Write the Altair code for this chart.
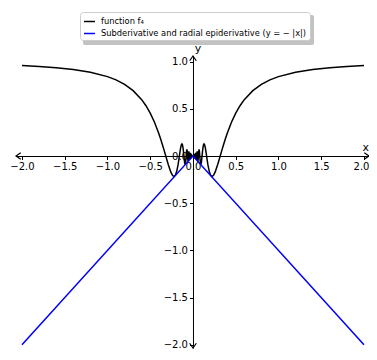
import altair as alt
import pandas as pd

# ---- data ----
F4_X = [-2.0, -1.8, -1.6, -1.4, -1.2, -1.0, -0.9, -0.8, -0.7, -0.6, -0.55, -0.5, -0.45, -0.4,
        -0.38, -0.36, -0.34, -0.3183, -0.29, -0.26, -0.24, -0.2225, -0.205, -0.19, -0.175,
        -0.167, -0.1592, -0.152, -0.145, -0.137, -0.1294, -0.123, -0.117, -0.111, -0.1061,
        -0.098, -0.0917, -0.085, -0.0796, -0.075, -0.0711, -0.067, -0.0637, -0.0579, -0.0531,
        -0.049, -0.0455, -0.0424, -0.0398, -0.0374, -0.0354, -0.0335, -0.0318, -0.0303,
        -0.0289, -0.0277, -0.0265, -0.02546, -0.02449, -0.02358, -0.02274, -0.02195,
        -0.02122, -0.02054, -0.01989, -0.01929, -0.01872, -0.01819, -0.01768, -0.01722,
        -0.01675,
        0.0,
        0.01675, 0.01722, 0.01768, 0.01819, 0.01872, 0.01929, 0.01989, 0.02054, 0.02122,
        0.02195, 0.02274, 0.02358, 0.02449, 0.02546, 0.0265, 0.0277, 0.0289, 0.0303, 0.0318,
        0.0335, 0.0354, 0.0374, 0.0398, 0.0424, 0.0455, 0.049, 0.0531, 0.0579, 0.0637, 0.067,
        0.0711, 0.075, 0.0796, 0.085, 0.0917, 0.098, 0.1061, 0.111, 0.117, 0.123, 0.1294,
        0.137, 0.145, 0.152, 0.1592, 0.167, 0.175, 0.19, 0.205, 0.2225, 0.24, 0.26, 0.29,
        0.3183, 0.34, 0.36, 0.38, 0.4, 0.45, 0.5, 0.55, 0.6, 0.7, 0.8, 0.9, 1.0, 1.2, 1.4,
        1.6, 1.8, 2.0]
F4_Y = [0.9589, 0.9494, 0.9362, 0.9171, 0.8882, 0.8415, 0.8065, 0.7592, 0.6929, 0.5972,
        0.5332, 0.4546, 0.3578, 0.2394, 0.1857, 0.1282, 0.0678, 0.0, -0.0875, -0.1684,
        -0.2052, -0.2172, -0.2022, -0.1619, -0.0943, -0.0486, 0.0, 0.0443, 0.0835, 0.1164,
        0.1284, 0.1183, 0.0900, 0.0448, 0.0, -0.0689, -0.0913, -0.0610, 0.0, 0.0521, 0.0709,
        0.0472, 0.0, -0.0578, 0.0, 0.0489, 0.0, -0.0424, 0.0, 0.0374, 0.0, -0.0335, 0.0,
        0.0303, 0.0, -0.0277, 0.0, 0.0255, 0.0, -0.0236, 0.0, 0.0220, 0.0, -0.0205, 0.0,
        0.0193, 0.0, -0.0182, 0.0, 0.0172, 0.0,
        0.0,
        0.0, 0.0172, 0.0, -0.0182, 0.0, 0.0193, 0.0, -0.0205, 0.0, 0.0220, 0.0, -0.0236,
        0.0, 0.0255, 0.0, -0.0277, 0.0, 0.0303, 0.0, -0.0335, 0.0, 0.0374, 0.0, -0.0424,
        0.0, 0.0489, 0.0, -0.0578, 0.0, 0.0472, 0.0709, 0.0521, 0.0, -0.0610, -0.0913,
        -0.0689, 0.0, 0.0448, 0.0900, 0.1183, 0.1284, 0.1164, 0.0835, 0.0443, 0.0, -0.0486,
        -0.0943, -0.1619, -0.2022, -0.2172, -0.2052, -0.1684, -0.0875, 0.0, 0.0678, 0.1282,
        0.1857, 0.2394, 0.3578, 0.4546, 0.5332, 0.5972, 0.6929, 0.7592, 0.8065, 0.8415,
        0.8882, 0.9171, 0.9362, 0.9494, 0.9589]
LINE_X = [-2.0, 0.0, 2.0]
LINE_Y = [-2.0, 0.0, -2.0]
SERIES = ["function f₄", "Subderivative and radial epiderivative (y = − |x|)"]
COLORS = ["black", "blue"]
X_TICKS = [-2.0, -1.5, -1.0, -0.5, 0.0, 0.5, 1.0, 1.5, 2.0]
Y_TICKS = [-2.0, -1.5, -1.0, -0.5, 0.0, 0.5, 1.0]

# ---- layout ----
XMIN, XMAX = -2.07, 2.0587
YMIN, YMAX = -2.035, 1.06
W, H = 353, 292
FONT = "DejaVu Sans"

rows = []
for i, (x, y) in enumerate(zip(F4_X, F4_Y)):
    rows.append({"x": x, "y": y, "series": SERIES[0], "idx": i})
for i, (x, y) in enumerate(zip(LINE_X, LINE_Y)):
    rows.append({"x": x, "y": y, "series": SERIES[1], "idx": i})
df = pd.DataFrame(rows)

xs = alt.Scale(domain=[XMIN, XMAX], nice=False, zero=False)
ys = alt.Scale(domain=[YMIN, YMAX], nice=False, zero=False)

x_off = -H * (0 - YMIN) / (YMAX - YMIN)
y_off = -W * (0 - XMIN) / (XMAX - XMIN)

x_axis = alt.Axis(values=X_TICKS, format=".1f", offset=x_off, title=None, grid=False,
                  domainColor="black", domainWidth=1, tickColor="black", tickWidth=1,
                  tickSize=3.5, labelColor="black", labelFont=FONT, labelFontSize=10,
                  labelPadding=2, labelFlush=5.5, labelFlushOffset=5, labelOverlap=False)
y_axis = alt.Axis(values=Y_TICKS, format=".1f", offset=y_off, title=None, grid=False,
                  domainColor="black", domainWidth=1, tickColor="black", tickWidth=1,
                  tickSize=3.5, labelColor="black", labelFont=FONT, labelFontSize=10,
                  labelPadding=2, labelFlush=False, labelOverlap=False)

X = alt.X("x:Q", scale=xs, axis=x_axis)
Y = alt.Y("y:Q", scale=ys, axis=y_axis)

shadow = alt.Chart(pd.DataFrame({"a": [0]})).mark_rect(
    color="#999999", opacity=0.6, cornerRadius=2, clip=False
).encode(x=alt.value(67), x2=alt.value(298), y=alt.value(-41), y2=alt.value(-11))

lines = alt.Chart(df).mark_line(strokeWidth=1.5, clip=False).encode(
    x=X,
    y=Y,
    color=alt.Color("series:N", scale=alt.Scale(domain=SERIES, range=COLORS),
                    legend=alt.Legend(orient="none", legendX=64, legendY=-44, title=None,
                                      fillColor="white", strokeColor="#cccccc",
                                      cornerRadius=3, padding=3, labelFont=FONT,
                                      labelFontSize=8.3, labelColor="black",
                                      symbolType="stroke", symbolStrokeWidth=1.5,
                                      symbolSize=121, rowPadding=2, labelOffset=5,
                                      labelLimit=400)),
    order="idx:Q",
)

ARROW_X = [XMAX, XMIN, 0.0, 0.0]
ARROW_Y = [0.0, 0.0, YMAX, YMIN]
ARROW_ANGLE = [0, 180, 270, 90]
arrows = alt.Chart(pd.DataFrame({"x": ARROW_X, "y": ARROW_Y, "a": ARROW_ANGLE})).mark_point(
    shape="M -1 -0.7 L 0 0 L -1 0.7", filled=False, color="black", strokeWidth=1.2,
    size=90, opacity=1, clip=False
).encode(
    x=X,
    y=Y,
    angle=alt.Angle("a:Q", scale=None),
)

ylab = alt.Chart(pd.DataFrame({"x": [0.0], "y": [YMAX], "t": ["y"]})).mark_text(
    font=FONT, fontSize=11, color="black", dx=5, dy=-7, clip=False
).encode(x=X, y=Y, text="t:N")

xlab = alt.Chart(pd.DataFrame({"x": [XMAX], "y": [0.0], "t": ["x"]})).mark_text(
    font=FONT, fontSize=11, color="black", align="right", dx=0, dy=-8, clip=False
).encode(x=X, y=Y, text="t:N")

chart = alt.layer(shadow, lines, arrows, ylab, xlab).properties(
    width=W, height=H, autosize="none",
    padding={"left": 8, "top": 48, "right": 0, "bottom": 4},
).configure_view(stroke=None)

chart.save("out.html", embed_options={"renderer": "svg", "actions": False})
